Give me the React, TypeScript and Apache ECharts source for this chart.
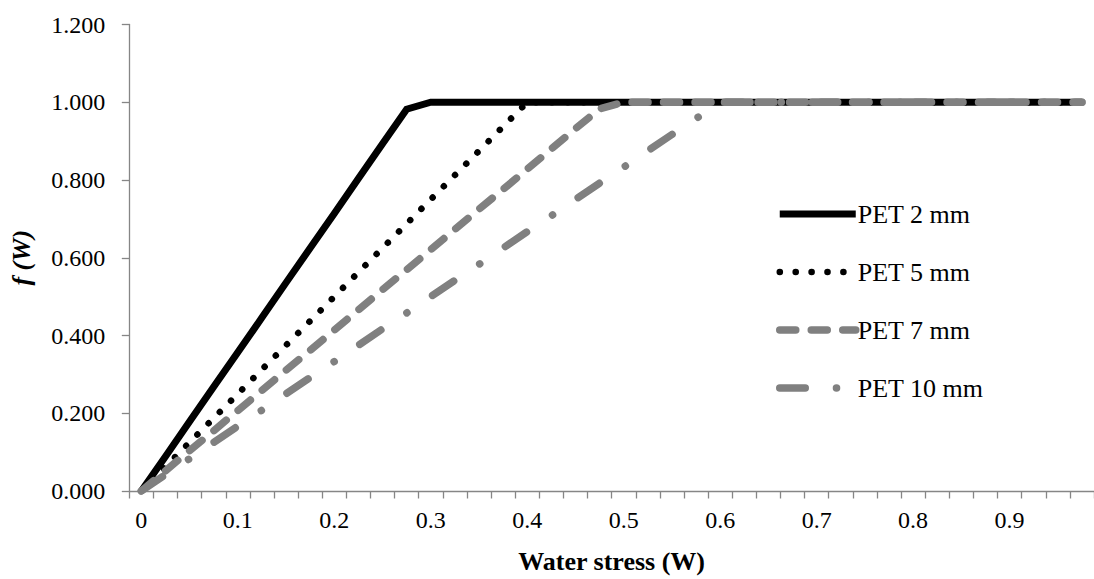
import React, { useEffect, useRef } from "react";
import * as echarts from "echarts";

const categories: string[] = [
  "0", "0.025", "0.05", "0.075", "0.1", "0.125", "0.15", "0.175",
  "0.2", "0.225", "0.25", "0.275", "0.3", "0.325", "0.35", "0.375",
  "0.4", "0.425", "0.45", "0.475", "0.5", "0.525", "0.55", "0.575",
  "0.6", "0.625", "0.65", "0.675", "0.7", "0.725", "0.75", "0.775",
  "0.8", "0.825", "0.85", "0.875", "0.9", "0.925", "0.95", "0.975",
];

const pet2: number[] = [
  0, 0.089, 0.179, 0.268, 0.357, 0.446, 0.536, 0.625, 0.714, 0.804,
  0.893, 0.982, 1, 1, 1, 1, 1, 1, 1, 1,
  1, 1, 1, 1, 1, 1, 1, 1, 1, 1,
  1, 1, 1, 1, 1, 1, 1, 1, 1, 1,
];

const pet5: number[] = [
  0, 0.0625, 0.125, 0.1875, 0.25, 0.3125, 0.375, 0.4375, 0.5, 0.5625,
  0.625, 0.6875, 0.75, 0.8125, 0.875, 0.9375, 1, 1, 1, 1,
  1, 1, 1, 1, 1, 1, 1, 1, 1, 1,
  1, 1, 1, 1, 1, 1, 1, 1, 1, 1,
];

const pet7: number[] = [
  0, 0.052, 0.104, 0.155, 0.207, 0.259, 0.311, 0.362, 0.414, 0.466,
  0.518, 0.569, 0.621, 0.673, 0.725, 0.776, 0.828, 0.88, 0.932, 0.983,
  1, 1, 1, 1, 1, 1, 1, 1, 1, 1,
  1, 1, 1, 1, 1, 1, 1, 1, 1, 1,
];

const pet10: number[] = [
  0, 0.042, 0.083, 0.125, 0.167, 0.208, 0.25, 0.292, 0.333, 0.375,
  0.417, 0.458, 0.5, 0.542, 0.583, 0.625, 0.667, 0.708, 0.75, 0.792,
  0.833, 0.875, 0.917, 0.958, 1, 1, 1, 1, 1, 1,
  1, 1, 1, 1, 1, 1, 1, 1, 1, 1,
];

const seriesNames: string[] = ["PET 2 mm", "PET 5 mm", "PET 7 mm", "PET 10 mm"];

const FONT = "'Liberation Serif', 'Times New Roman', serif";
const AXIS_COLOR = "#868686";
const GRAY = "#808080";

export default function App() {
  const ref = useRef<HTMLDivElement>(null);

  useEffect(() => {
    if (!ref.current) return;
    const chart = echarts.init(ref.current, undefined, { renderer: "svg" });
    chart.setOption({
      animation: false,
      backgroundColor: "#ffffff",
      textStyle: { fontFamily: FONT },
      grid: { left: 129.3, right: -3.3, top: 24.5, bottom: 87.3, containLabel: false },
      legend: {
        orient: "vertical",
        left: 771,
        top: 196,
        padding: 5,
        itemWidth: 76,
        itemHeight: 14,
        itemGap: 32,
        data: seriesNames,
        lineStyle: { width: "inherit" },
        itemStyle: { color: "rgba(0,0,0,0)", borderWidth: 0, opacity: 0 },
        textStyle: { fontFamily: FONT, fontSize: 26, color: "#000", padding: [0, 0, 0, -3] },
      },
      xAxis: {
        type: "category",
        data: categories,
        boundaryGap: true,
        name: "Water stress (W)",
        nameLocation: "middle",
        nameGap: 57,
        nameTextStyle: { fontFamily: FONT, fontSize: 26, fontWeight: "bold", color: "#000" },
        axisLine: { show: true, lineStyle: { color: AXIS_COLOR, width: 1.3 } },
        axisTick: { show: true, interval: 0, alignWithLabel: false, length: 7.5, inside: false, lineStyle: { color: AXIS_COLOR, width: 1.3 } },
        axisLabel: { interval: 3, margin: 17, fontFamily: FONT, fontSize: 24, color: "#000" },
        splitLine: { show: false },
      },
      yAxis: {
        type: "value",
        min: 0,
        max: 1.2,
        interval: 0.2,
        name: "f (W)",
        nameLocation: "middle",
        nameGap: 95,
        nameTextStyle: { fontFamily: FONT, fontSize: 26, fontWeight: "bold", fontStyle: "italic", color: "#000" },
        axisLine: { show: true, lineStyle: { color: AXIS_COLOR, width: 1.3 } },
        axisTick: { show: true, length: 7.5, lineStyle: { color: AXIS_COLOR, width: 1.3 } },
        axisLabel: { margin: 24, fontFamily: FONT, fontSize: 24, color: "#000", formatter: (v: number) => v.toFixed(3) },
        splitLine: { show: false },
      },
      series: [
        {
          name: seriesNames[0],
          type: "line",
          data: pet2,
          showSymbol: false,
          symbol: "none",
          lineStyle: { color: "#000000", width: 7, type: "solid", cap: "butt", join: "miter" },
          itemStyle: { color: "#000000" },
        },
        {
          name: seriesNames[1],
          type: "line",
          data: pet5,
          showSymbol: false,
          symbol: "none",
          lineStyle: { color: "#000000", width: 6.5, type: [0.1, 15.8], cap: "round" },
          itemStyle: { color: "#000000" },
        },
        {
          name: seriesNames[2],
          type: "line",
          data: pet7,
          showSymbol: false,
          symbol: "none",
          lineStyle: { color: GRAY, width: 7.5, type: [16, 15.5], cap: "round" },
          itemStyle: { color: GRAY },
        },
        {
          name: seriesNames[3],
          type: "line",
          data: pet10,
          showSymbol: false,
          symbol: "none",
          lineStyle: { color: GRAY, width: 7.5, type: [25.5, 31.2, 0.1, 30.9], cap: "round" },
          itemStyle: { color: GRAY },
        },
      ],
    });
    return () => chart.dispose();
  }, []);

  return (
    <div
      ref={ref}
      style={{ position: "fixed", left: 0, top: 0, width: 1094, height: 579, background: "#fff" }}
    />
  );
}
